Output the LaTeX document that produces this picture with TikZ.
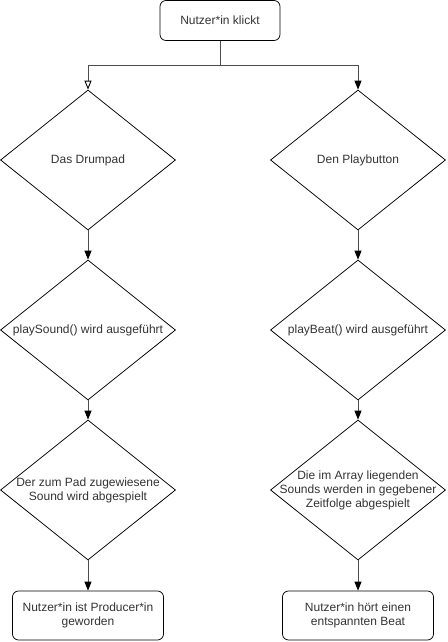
\documentclass[tikz,border=0pt]{standalone}
\usepackage{fontspec}
\setmainfont{Liberation Sans}
\usetikzlibrary{shapes.geometric,arrows.meta}
\definecolor{txt}{HTML}{333333}
\definecolor{edge}{HTML}{4D4D4D}
\begin{document}
\begin{tikzpicture}[x=1pt,y=-1pt,
  every node/.style={font=\fontsize{12}{14}\selectfont, text=txt, align=center},
  rbox/.style={draw=black, line width=0.75pt, rounded corners=6pt, minimum width=#1, inner sep=0pt},
  dia/.style={draw=black, line width=0.75pt, diamond, minimum width=175pt, minimum height=140pt, inner sep=0pt},
  flow/.style={draw=edge, line width=0.9pt, -{Triangle[length=9pt,width=7pt,color=black]}},
  flowopen/.style={draw=edge, line width=0.9pt, -{Triangle[open,length=9pt,width=7pt,color=black,fill=white]}}
]
\useasboundingbox (0,0) rectangle (447,642);

\node[rbox=120pt, minimum height=40pt] (start) at (220,20.5) {Nutzer*in klickt};

\node[dia] (l1) at (88,160) {};
\node at (l1) {Das Drumpad};
\node[dia] (r1) at (358,160) {};
\node at (r1) {Den Playbutton};

\node[dia] (l2) at (88,330) {};
\node at (l2) {playSound() wird ausgeführt};
\node[dia] (r2) at (358,330) {};
\node at (r2) {playBeat() wird ausgeführt};

\node[dia] (l3) at (88,490) {};
\node at (l3) {Der zum Pad zugewiesene\\Sound wird abgespielt};
\node[dia] (r3) at (358,490) {};
\node at (r3) {Die im Array liegenden\\Sounds werden in gegebener\\Zeitfolge abgespielt};

\node[rbox=151pt, minimum height=49pt] (l4) at (88,615.5) {Nutzer*in ist Producer*in\\geworden};
\node[rbox=151pt, minimum height=49pt] (r4) at (358,615.5) {Nutzer*in hört einen\\entspannten Beat};

\coordinate (j) at (220,65);
\draw[draw=edge, line width=0.9pt] (start.south) -- (j);
\draw[flowopen] (j) -| (l1.north);
\draw[flow] (j) -| (r1.north);

\draw[flow] (l1.south) -- (l2.north);
\draw[flow] (r1.south) -- (r2.north);
\draw[flow] (l2.south) -- (l3.north);
\draw[flow] (r2.south) -- (r3.north);
\draw[flow] (l3.south) -- (l4.north);
\draw[flow] (r3.south) -- (r4.north);
\end{tikzpicture}
\end{document}
